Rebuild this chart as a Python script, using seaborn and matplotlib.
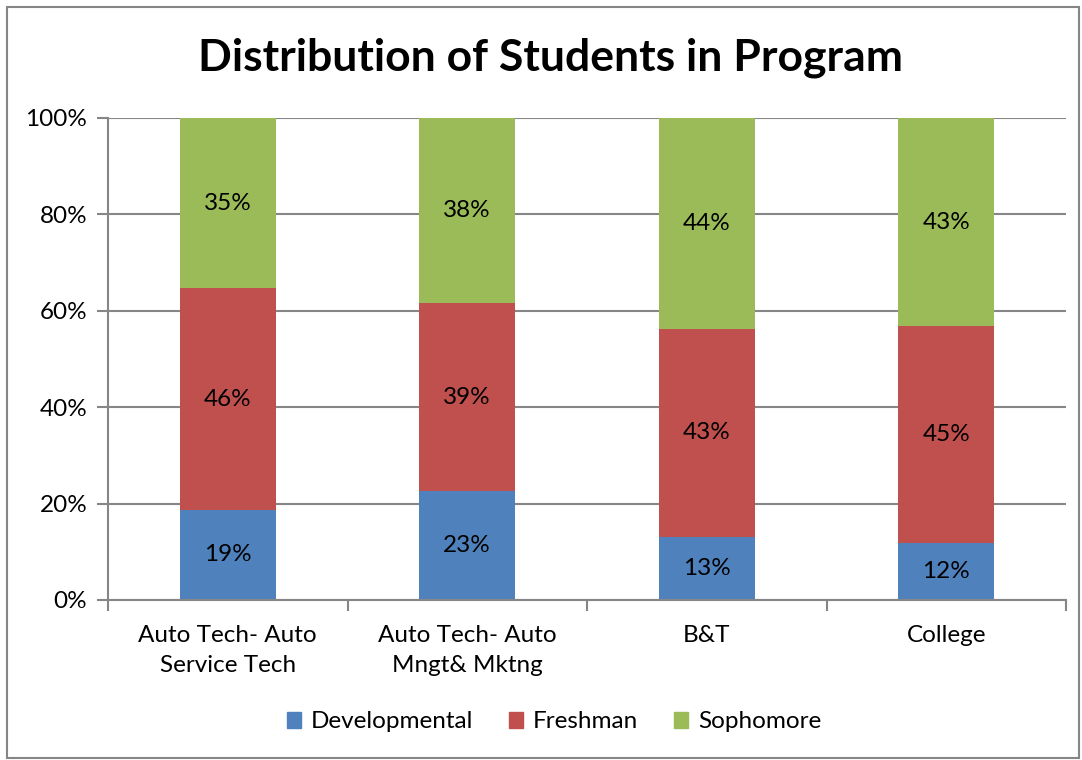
import matplotlib
matplotlib.use("Agg")
import matplotlib.pyplot as plt
import matplotlib.patches as mpatches
import seaborn as sns

# --- data (percent of students per program) ---
programs = ["Auto Tech- Auto\nService Tech", "Auto Tech- Auto\nMngt& Mktng", "B&T", "College"]
developmental = [18.7, 22.6, 13.1, 11.8]
freshman = [46.0, 39.0, 43.1, 45.0]
sophomore = [35.3, 38.4, 43.8, 43.2]
series_names = ["Developmental", "Freshman", "Sophomore"]
colors = ["#4F81BD", "#C0504D", "#9BBB59"]

sns.set_theme(style="white")
plt.rcParams["font.family"] = ["Lato", "DejaVu Sans"]
plt.rcParams["text.color"] = "black"
plt.rcParams["xtick.color"] = "black"
plt.rcParams["ytick.color"] = "black"

fs = 17.5

fig = plt.figure(figsize=(10.82, 7.6), dpi=100)
ax = fig.add_axes([108 / 1082, 160 / 760, (1066 - 108) / 1082, (600 - 118) / 760])

# grey border round the whole chart
fig.patches.append(mpatches.Rectangle((7 / 1082, 2 / 760), 1072 / 1082, 751 / 760,
                                      transform=fig.transFigure, fill=False,
                                      edgecolor="#868686", linewidth=1.5))

bottoms = [0] * len(programs)
for name, vals, col in zip(series_names, [developmental, freshman, sophomore], colors):
    sns.barplot(x=programs, y=vals, bottom=bottoms, color=col, width=0.4,
                ax=ax, label=name, saturation=1, linewidth=0)
    bottoms = [b + v for b, v in zip(bottoms, vals)]

for cont in ax.containers:
    labels = [f"{round(p.get_height()):.0f}%" for p in cont]
    ax.bar_label(cont, labels=labels, label_type="center", fontsize=fs, color="black")

ax.set_ylim(0, 100)
ax.set_xlim(-0.5, 3.5)
ax.set_yticks([0, 20, 40, 60, 80, 100])
ax.set_yticklabels([f"{t}%" for t in [0, 20, 40, 60, 80, 100]])
ax.yaxis.grid(True, color="#868686", linewidth=1.5)
ax.set_axisbelow(True)
for s in ["top", "right"]:
    ax.spines[s].set_visible(False)
for s in ["left", "bottom"]:
    ax.spines[s].set_color("#868686")
    ax.spines[s].set_linewidth(1.5)
ax.set_xticks([-0.5, 0.5, 1.5, 2.5, 3.5], minor=False)
ax.set_xticklabels([])
ax.set_xticks([0, 1, 2, 3], minor=True)
ax.set_xticklabels(programs, minor=True, fontsize=fs, linespacing=1.55)
ax.tick_params(axis="x", which="major", direction="out", length=8, width=1.5,
               color="#868686", bottom=True)
ax.tick_params(axis="x", which="minor", length=0, pad=18)
ax.tick_params(axis="y", direction="out", length=8, width=1.5, color="#868686",
               left=True, labelsize=fs, pad=7)
ax.set_xlabel("")
ax.set_ylabel("")
if ax.legend_:
    ax.legend_.remove()

fig.suptitle("Distribution of Students in Program", fontsize=32, fontweight="bold",
             x=551 / 1082, y=1 - 58 / 760, va="center", color="black")

handles = [mpatches.Patch(color=c, label=n) for c, n in zip(colors, series_names)]
fig.legend(handles=handles, loc="center", bbox_to_anchor=(554 / 1082, 1 - 722 / 760), ncol=3,
           frameon=False, fontsize=fs, handlelength=0.6, handleheight=0.6,
           handletextpad=0.4, columnspacing=1.45)

fig.savefig("out.png", dpi=100)
